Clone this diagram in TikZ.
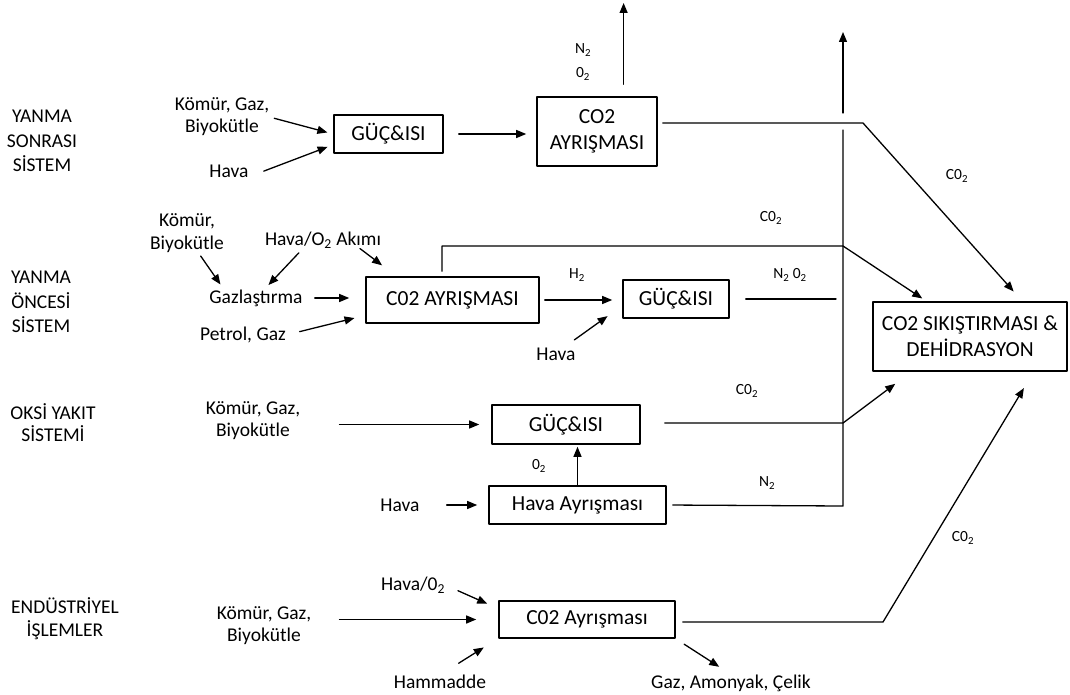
\documentclass[tikz,border=0pt]{standalone}
\usepackage{fontspec}
\setmainfont{Carlito}
\usetikzlibrary{arrows.meta}

\begin{document}
\begin{tikzpicture}[x=1pt, y=-1pt, line join=round, line cap=round, >={Triangle[length=10pt,width=8pt]},
	box/.style={draw, line width=1.6pt, inner sep=0pt, align=center, font=\fontsize{21.5}{26}\selectfont},
	lab/.style={inner sep=0pt, align=center, font=\fontsize{19.5}{22}\selectfont},
	cat/.style={lab, font=\fontsize{19.5}{24.5}\selectfont},
	gas/.style={inner sep=0pt, align=center, font=\fontsize{15.5}{24}\selectfont},
	flow/.style={line width=1.3pt}, arr/.style={flow, ->}]
	\useasboundingbox (0,0) rectangle (1070,695);
	\node[cat] (cat1) at (42,141) {YANMA\\SONRASI\\SİSTEM};
	\node[cat] (cat2) at (41,302) {YANMA\\ÖNCESİ\\SİSTEM};
	\node[lab] (cat3) at (53,423) {OKSİ YAKIT\\SİSTEMİ};
	\node[lab, font=\fontsize{19.5}{23}\selectfont] (cat4) at (65,619) {ENDÜSTRİYEL\\İŞLEMLER};
	\node[box, minimum width=109, minimum height=38] (p1) at (388.5,134) {GÜÇ\&ISI};
	\node[box, minimum width=120, minimum height=69] (s1) at (597,131.5) {CO2\\AYRIŞMASI};
	\node[box, minimum width=173, minimum height=46] (s2) at (452.5,300) {C02 AYRIŞMASI};
	\node[box, minimum width=106, minimum height=38] (p2) at (676,299) {GÜÇ\&ISI};
	\node[box, minimum width=194, minimum height=69] (f) at (970,336.5) {CO2 SIKIŞTIRMASI \&\\DEHİDRASYON};
	\node[box, minimum width=148, minimum height=39] (p3) at (566,424.5) {GÜÇ\&ISI};
	\node[box, minimum width=177, minimum height=38] (h) at (577.5,505) {Hava Ayrışması};
	\node[box, minimum width=176, minimum height=37] (e) at (587,619.5) {C02 Ayrışması};
	\node[lab] (k1) at (222,117) {Kömür, Gaz,\\Biyokütle};
	\node[lab] (h1) at (229,171) {Hava};
	\node[lab, font=\fontsize{19.5}{23}\selectfont] (k2) at (187,233) {Kömür,\\Biyokütle};
	\node[lab] (o2) at (323,240) {Hava/O\textsubscript{2} Akımı};
	\node[lab] (gz) at (256,298) {Gazlaştırma};
	\node[lab] (pg) at (243,335) {Petrol, Gaz};
	\node[lab] (h2) at (556,354) {Hava};
	\node[lab] (k3) at (253,421) {Kömür, Gaz,\\Biyokütle};
	\node[lab] (h3) at (400,505) {Hava};
	\node[lab] (o4) at (413,585) {Hava/0\textsubscript{2}};
	\node[lab] (k4) at (264,626) {Kömür, Gaz,\\Biyokütle};
	\node[lab] (hm) at (440,682) {Hammadde};
	\node[lab] (gac) at (731,683) {Gaz, Amonyak, Çelik};
	\node[gas] (n1) at (583,62) {N\textsubscript{2}\\0\textsubscript{2}};
	\node[gas] (c1) at (957,176) {C0\textsubscript{2}};
	\node[gas] (c2) at (771,218) {C0\textsubscript{2}};
	\node[gas] (hh) at (577,275) {H\textsubscript{2}};
	\node[gas] (no) at (790,275) {N\textsubscript{2} 0\textsubscript{2}};
	\node[gas] (c3) at (747,391) {C0\textsubscript{2}};
	\node[gas] (oo) at (539,466) {0\textsubscript{2}};
	\node[gas] (nn) at (767,483) {N\textsubscript{2}};
	\node[gas] (c4) at (963,538) {C0\textsubscript{2}};
	\coordinate (up1) at (623,3);
	\coordinate (v0) at (843,32);
	\coordinate (v1) at (843,113);
	\coordinate (b1) at (863,123);
	\coordinate (v2) at (843,130);
	\coordinate (t2) at (442,246);
	\coordinate (j2) at (843,246);
	\coordinate (e2) at (836,299);
	\coordinate (j3) at (843,423);
	\coordinate (v3) at (843,506);
	\coordinate (b4) at (883,622);
	\draw[arr, shorten <=5, shorten >=6] (k1.east) -- (p1.west);
	\draw[arr, shorten <=18, shorten >=6] (h1.340) -- (p1.191);
	\draw[arr, shorten <=15, shorten >=10] (p1.east) -- (p1.east -| s1.west);
	\draw[arr, shorten <=12] (s1.53) -- (s1.53 |- up1);
	\draw[arr, shorten <=5, shorten >=13] (s1.east |- b1) -- (b1) -- (f.34);
	\draw[arr] (v1) -- (v0);
	\draw[arr, shorten <=4, shorten >=6] (k2.300) -- (gz.165);
	\draw[arr, shorten <=6, shorten >=6] (o2.203) -- (gz.46);
	\draw[arr, shorten >=18] (o2.347) -- (s2.157);
	\draw[arr, shorten <=12, shorten >=16] (gz.east) -- (gz.east -| s2.west);
	\draw[arr, shorten <=14, shorten >=11] (pg.east) -- (s2.190);
	\draw[arr, shorten <=5, shorten >=5] (s2.north -| t2) -- (t2) -- (j2) -- (f.141);
	\draw[arr, shorten <=5, shorten >=10] (s2.east) -- (s2.east -| p2.west);
	\draw[arr, shorten <=13, shorten >=18] (h2.40) -- (p2.187);
	\draw[flow, shorten <=16] (p2.east) -- (e2);
	\draw[arr, shorten <=39, shorten >=12] (k3.east |- p3) -- (p3.west);
	\draw[arr, shorten <=24, shorten >=20] (p3.east |- j3) -- (j3) -- (f.211);
	\draw[arr, shorten <=27, shorten >=11] (h3.east) -- (h.west);
	\draw[arr, shorten >=2] (h.north) -- (h.north |- p3.south);
	\draw[flow, shorten <=6] (h.east) -- (v3) -- (v2);
	\draw[arr, shorten <=14, shorten >=12] (o4.east) -- (e.173);
	\draw[arr, shorten <=28, shorten >=22] (k4.east |- e) -- (e.west);
	\draw[arr, shorten <=22, shorten >=17] (hm.north) -- (e.192);
	\draw[arr, shorten <=10, shorten >=14] (e.south east) -- (gac.north);
	\draw[arr, shorten <=7, shorten >=19] (e.east |- b4) -- (b4) -- (f.331);
\end{tikzpicture}
\end{document}
